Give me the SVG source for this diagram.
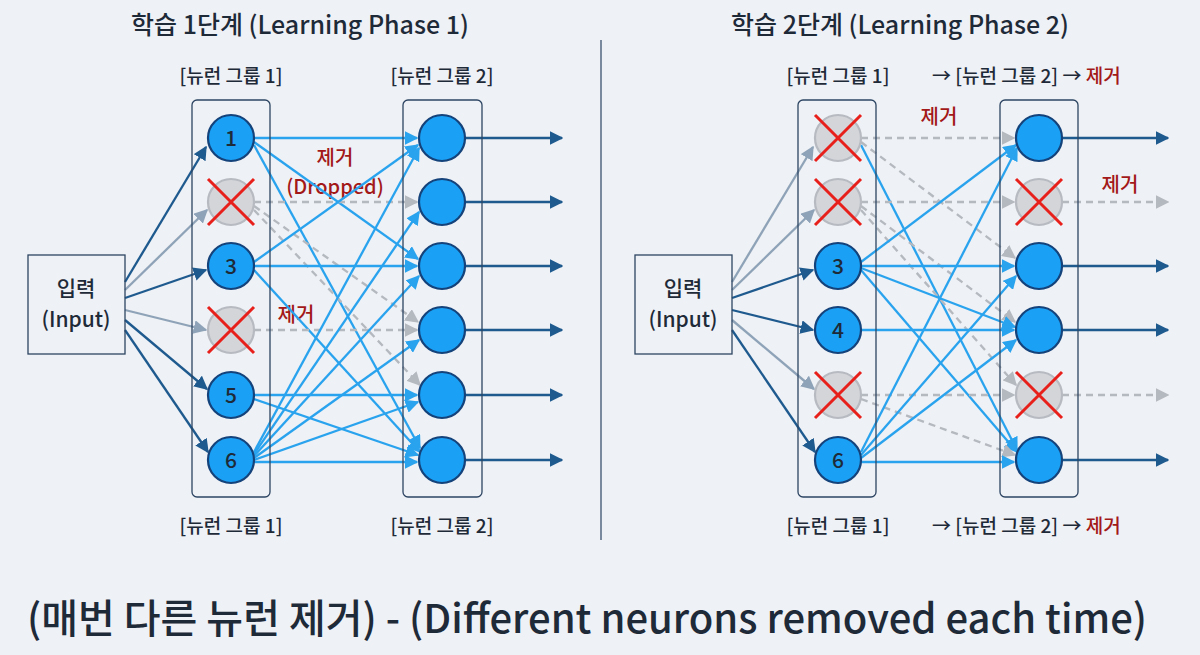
<svg xmlns="http://www.w3.org/2000/svg" width="1200" height="655" viewBox="0 0 1200 655">
<defs>
<marker id="ad" viewBox="0 0 10 10" refX="9" refY="5" markerWidth="6" markerHeight="6" orient="auto"><path d="M0,0L10,5L0,10z" fill="#1f5a8f"/></marker>
<marker id="ab" viewBox="0 0 10 10" refX="9" refY="5" markerWidth="6" markerHeight="6" orient="auto"><path d="M0,0L10,5L0,10z" fill="#2aa3ee"/></marker>
<marker id="ag" viewBox="0 0 10 10" refX="9" refY="5" markerWidth="6" markerHeight="6" orient="auto"><path d="M0,0L10,5L0,10z" fill="#b4b8bf"/></marker>
<marker id="ai" viewBox="0 0 10 10" refX="9" refY="5" markerWidth="6" markerHeight="6" orient="auto"><path d="M0,0L10,5L0,10z" fill="#8fa3b8"/></marker>
</defs>
<style>
text{font-family:"Noto Sans CJK KR","Noto Sans",sans-serif;fill:#1e2a38;font-weight:500}
.t{font-size:25px}.g{font-size:19px}.n{font-size:21px}.r{fill:#a31818;font-size:20px}
.box{fill:none;stroke:#2d4563;stroke-width:1.3}
.on{fill:#1aa0f5;stroke:#14427a;stroke-width:2.2}
.off{fill:#d3d5d9;stroke:#b7bbc1;stroke-width:2.2}
.x{stroke:#e8201c;stroke-width:3}
.sd{stroke:#1f5a8f;stroke-width:2.3;marker-end:url(#ad);fill:none}
.si{stroke:#8fa3b8;stroke-width:2.3;marker-end:url(#ai);fill:none}
.sb{stroke:#2aa3ee;stroke-width:2.3;marker-end:url(#ab);fill:none}
.sg{stroke:#b4b8bf;stroke-width:2.3;stroke-dasharray:7 5;marker-end:url(#ag);fill:none}
</style>
<rect width="1200" height="655" fill="#eef1f5"/>
<line x1="601" y1="40" x2="601" y2="540" stroke="#2d4563" stroke-width="1.2"/>
<text class="t" x="300" y="34" text-anchor="middle">학습 1단계 (Learning Phase 1)</text>
<text class="t" x="900" y="34" text-anchor="middle">학습 2단계 (Learning Phase 2)</text>
<g id="labels">
<text class="g" x="231" y="83" text-anchor="middle">[뉴런 그룹 1]</text>
<text class="g" x="442" y="83" text-anchor="middle">[뉴런 그룹 2]</text>
<text class="g" x="231" y="533" text-anchor="middle">[뉴런 그룹 1]</text>
<text class="g" x="442" y="533" text-anchor="middle">[뉴런 그룹 2]</text>
<text class="g" x="838" y="83" text-anchor="middle">[뉴런 그룹 1]</text>
<text class="g" x="932" y="83">→ [뉴런 그룹 2] → <tspan fill="#a31818">제거</tspan></text>
<text class="g" x="838" y="533" text-anchor="middle">[뉴런 그룹 1]</text>
<text class="g" x="932" y="533">→ [뉴런 그룹 2] → <tspan fill="#a31818">제거</tspan></text>
<text class="r" x="335" y="165" text-anchor="middle">제거</text>
<text class="r" x="335" y="194" text-anchor="middle">(Dropped)</text>
<text class="r" x="296" y="322" text-anchor="middle">제거</text>
<text class="r" x="939" y="124" text-anchor="middle">제거</text>
<text class="r" x="1120" y="192" text-anchor="middle">제거</text>
<text x="587" y="633" text-anchor="middle" font-size="40">(매번 다른 뉴런 제거) - (Different neurons removed each time)</text>
</g>
<g id="connectors">
<line class="sd" x1="125" y1="282" x2="206" y2="147"/>
<line class="si" x1="125" y1="290" x2="207" y2="210"/>
<line class="sd" x1="125" y1="298" x2="206" y2="270"/>
<line class="si" x1="125" y1="310" x2="206" y2="330"/>
<line class="sd" x1="125" y1="320" x2="207" y2="389"/>
<line class="sd" x1="125" y1="330" x2="208" y2="452"/>
<line class="sb" x1="254" y1="138" x2="417" y2="138"/>
<line class="sb" x1="254" y1="142" x2="418" y2="259"/>
<line class="sb" x1="254" y1="145" x2="420" y2="448"/>
<line class="sg" x1="254" y1="202" x2="417" y2="202"/>
<line class="sg" x1="254" y1="206" x2="418" y2="322"/>
<line class="sg" x1="254" y1="210" x2="420" y2="385"/>
<line class="sb" x1="254" y1="262" x2="418" y2="145"/>
<line class="sb" x1="254" y1="266" x2="417" y2="266"/>
<line class="sb" x1="254" y1="270" x2="420" y2="452"/>
<line class="sg" x1="254" y1="330" x2="417" y2="330"/>
<line class="sb" x1="254" y1="395" x2="417" y2="395"/>
<line class="sb" x1="254" y1="399" x2="418" y2="455"/>
<line class="sb" x1="254" y1="452" x2="419" y2="148"/>
<line class="sb" x1="254" y1="454" x2="419" y2="212"/>
<line class="sb" x1="254" y1="456" x2="419" y2="276"/>
<line class="sb" x1="254" y1="458" x2="419" y2="340"/>
<line class="sb" x1="254" y1="460" x2="418" y2="402"/>
<line class="sb" x1="254" y1="462" x2="417" y2="462"/>
<line class="sd" x1="465" y1="138" x2="562" y2="138"/>
<line class="sd" x1="465" y1="202" x2="562" y2="202"/>
<line class="sd" x1="465" y1="266" x2="562" y2="266"/>
<line class="sd" x1="465" y1="330" x2="562" y2="330"/>
<line class="sd" x1="465" y1="395" x2="562" y2="395"/>
<line class="sd" x1="465" y1="460" x2="562" y2="460"/>
<line class="si" x1="732" y1="282" x2="813" y2="147"/>
<line class="si" x1="732" y1="290" x2="814" y2="210"/>
<line class="sd" x1="732" y1="298" x2="813" y2="270"/>
<line class="sd" x1="732" y1="310" x2="813" y2="330"/>
<line class="si" x1="732" y1="320" x2="814" y2="389"/>
<line class="sd" x1="732" y1="330" x2="815" y2="452"/>
<line class="sg" x1="861" y1="138" x2="1014" y2="138"/>
<line class="sg" x1="861" y1="142" x2="1015" y2="258"/>
<line class="sb" x1="861" y1="145" x2="1017" y2="450"/>
<line class="sg" x1="861" y1="202" x2="1014" y2="202"/>
<line class="sg" x1="861" y1="206" x2="1015" y2="322"/>
<line class="sg" x1="861" y1="210" x2="1016" y2="385"/>
<line class="sb" x1="861" y1="262" x2="1016" y2="145"/>
<line class="sb" x1="861" y1="266" x2="1014" y2="266"/>
<line class="sb" x1="861" y1="268" x2="1015" y2="327"/>
<line class="sb" x1="861" y1="270" x2="1017" y2="452"/>
<line class="sb" x1="861" y1="330" x2="1014" y2="330"/>
<line class="sg" x1="861" y1="395" x2="1014" y2="395"/>
<line class="sg" x1="861" y1="399" x2="1015" y2="455"/>
<line class="sb" x1="861" y1="452" x2="1017" y2="148"/>
<line class="sb" x1="861" y1="455" x2="1016" y2="276"/>
<line class="sb" x1="861" y1="458" x2="1016" y2="340"/>
<line class="sb" x1="861" y1="462" x2="1014" y2="462"/>
<line class="sd" x1="1062" y1="138" x2="1168" y2="138"/>
<line class="sg" x1="1062" y1="202" x2="1168" y2="202"/>
<line class="sd" x1="1062" y1="266" x2="1168" y2="266"/>
<line class="sd" x1="1062" y1="330" x2="1168" y2="330"/>
<line class="sg" x1="1062" y1="395" x2="1168" y2="395"/>
<line class="sd" x1="1062" y1="460" x2="1168" y2="460"/>
</g>
<g id="input1"><rect class="box" x="28" y="255" width="97" height="99" fill="#eef1f5"/><text class="n" x="76" y="296" text-anchor="middle">입력</text><text class="n" x="76" y="327" text-anchor="middle">(Input)</text></g>
<g id="input2"><rect class="box" x="635" y="255" width="97" height="99" fill="#eef1f5"/><text class="n" x="683" y="296" text-anchor="middle">입력</text><text class="n" x="683" y="327" text-anchor="middle">(Input)</text></g>
<rect class="box" x="192" y="100" width="78" height="397" rx="5"/>
<rect class="box" x="403" y="100" width="79" height="397" rx="5"/>
<rect class="box" x="798" y="100" width="78" height="397" rx="5"/>
<rect class="box" x="1000" y="100" width="78" height="397" rx="5"/>
<g id="L1"><circle class="on" cx="231" cy="138" r="23"/><text class="n" x="231" y="146" text-anchor="middle">1</text></g>
<g id="L2"><circle class="off" cx="231" cy="202" r="23"/><path class="x" d="M208,179L254,225M254,179L208,225"/></g>
<g id="L3"><circle class="on" cx="231" cy="266" r="23"/><text class="n" x="231" y="274" text-anchor="middle">3</text></g>
<g id="L4"><circle class="off" cx="231" cy="330" r="23"/><path class="x" d="M208,307L254,353M254,307L208,353"/></g>
<g id="L5"><circle class="on" cx="231" cy="395" r="23"/><text class="n" x="231" y="403" text-anchor="middle">5</text></g>
<g id="L6"><circle class="on" cx="231" cy="460" r="23"/><text class="n" x="231" y="468" text-anchor="middle">6</text></g>
<g id="M1"><circle class="on" cx="442" cy="138" r="23"/></g>
<g id="M2"><circle class="on" cx="442" cy="202" r="23"/></g>
<g id="M3"><circle class="on" cx="442" cy="266" r="23"/></g>
<g id="M4"><circle class="on" cx="442" cy="330" r="23"/></g>
<g id="M5"><circle class="on" cx="442" cy="395" r="23"/></g>
<g id="M6"><circle class="on" cx="442" cy="460" r="23"/></g>
<g id="R1"><circle class="off" cx="838" cy="138" r="23"/><path class="x" d="M815,115L861,161M861,115L815,161"/></g>
<g id="R2"><circle class="off" cx="838" cy="202" r="23"/><path class="x" d="M815,179L861,225M861,179L815,225"/></g>
<g id="R3"><circle class="on" cx="838" cy="266" r="23"/><text class="n" x="838" y="274" text-anchor="middle">3</text></g>
<g id="R4"><circle class="on" cx="838" cy="330" r="23"/><text class="n" x="838" y="338" text-anchor="middle">4</text></g>
<g id="R5"><circle class="off" cx="838" cy="395" r="23"/><path class="x" d="M815,372L861,418M861,372L815,418"/></g>
<g id="R6"><circle class="on" cx="838" cy="460" r="23"/><text class="n" x="838" y="468" text-anchor="middle">6</text></g>
<g id="S1"><circle class="on" cx="1039" cy="138" r="23"/></g>
<g id="S2"><circle class="off" cx="1039" cy="202" r="23"/><path class="x" d="M1016,179L1062,225M1062,179L1016,225"/></g>
<g id="S3"><circle class="on" cx="1039" cy="266" r="23"/></g>
<g id="S4"><circle class="on" cx="1039" cy="330" r="23"/></g>
<g id="S5"><circle class="off" cx="1039" cy="395" r="23"/><path class="x" d="M1016,372L1062,418M1062,372L1016,418"/></g>
<g id="S6"><circle class="on" cx="1039" cy="460" r="23"/></g>
</svg>
